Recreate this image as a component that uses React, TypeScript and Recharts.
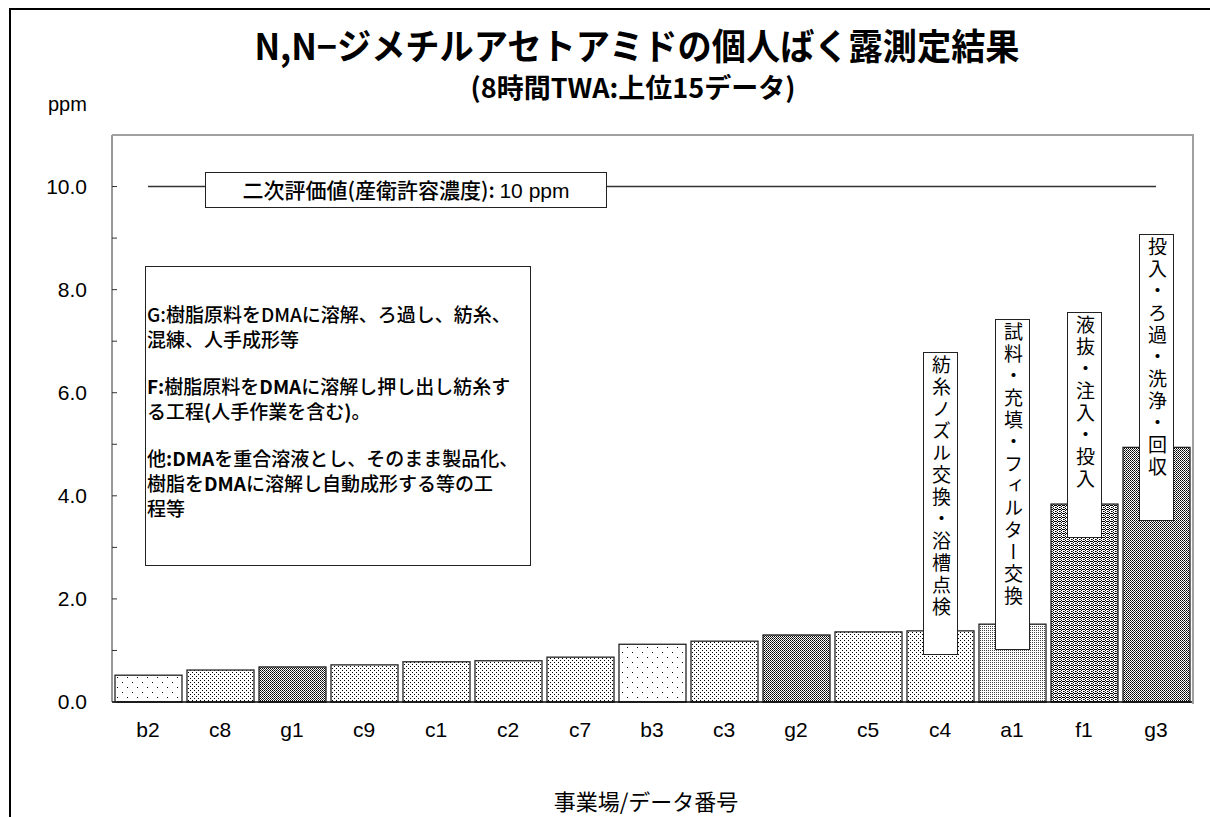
import React from "react";
import { ComposedChart, Bar, Line, XAxis, YAxis, Cell } from "recharts";

const categories = ["b2", "c8", "g1", "c9", "c1", "c2", "c7", "b3", "c3", "g2", "c5", "c4", "a1", "f1", "g3"];
const values = [0.52, 0.62, 0.68, 0.72, 0.78, 0.8, 0.87, 1.12, 1.18, 1.3, 1.36, 1.38, 1.51, 3.84, 4.94];
const yTicks = [0, 1, 2, 3, 4, 5, 6, 7, 8, 9, 10, 11];
const LIMIT = 10;

const noteTexts: Record<string, string> = {
  c4: "紡糸ノズル交換・浴槽点検",
  a1: "試料・充填・フィルター交換",
  f1: "液抜・注入・投入",
  g3: "投入・ろ過・洗浄・回収",
};

// pixel extent of the vertical note boxes (top, bottom)
const noteLayout: Record<string, [number, number]> = {
  c4: [352, 655],
  a1: [319, 650],
  f1: [312, 538],
  g3: [234, 521],
};

const data = categories.map((name, i) => ({ name, value: values[i], limit: LIMIT }));

const JP = '"Noto Sans CJK JP", "Noto Sans", sans-serif';
const LAT = '"Liberation Sans", Arial, sans-serif';

function Patterns() {
  return (
    <svg width={0} height={0} style={{ position: "absolute" }}>
      <defs>
        <pattern id="pat-b" width={10} height={10} patternUnits="userSpaceOnUse">
          <rect width={10} height={10} fill="#fff" />
          <rect x={2} y={2} width={1} height={1} fill="#000" />
          <rect x={7} y={7} width={1} height={1} fill="#000" />
        </pattern>
        <pattern id="pat-c" width={4} height={4} patternUnits="userSpaceOnUse">
          <rect width={4} height={4} fill="#fff" />
          <rect x={0} y={0} width={1} height={1} fill="#000" />
          <rect x={2} y={2} width={1} height={1} fill="#000" />
        </pattern>
        <pattern id="pat-a" width={2} height={2} patternUnits="userSpaceOnUse">
          <rect width={2} height={2} fill="#fff" />
          <rect x={0} y={0} width={1} height={1} fill="#444" />
        </pattern>
        <pattern id="pat-f" width={4} height={4} patternUnits="userSpaceOnUse">
          <rect width={4} height={4} fill="#fff" />
          <rect x={1} y={0} width={1} height={1} fill="#000" />
          <rect x={0} y={1} width={1} height={1} fill="#000" />
          <rect x={2} y={1} width={1} height={1} fill="#000" />
          <rect x={1} y={2} width={1} height={1} fill="#000" />
          <rect x={3} y={3} width={1} height={1} fill="#000" />
          <rect x={3} y={1} width={1} height={1} fill="#000" />
          <rect x={0} y={3} width={1} height={1} fill="#666" />
        </pattern>
        <pattern id="pat-g" width={2} height={2} patternUnits="userSpaceOnUse">
          <rect width={2} height={2} fill="#fff" />
          <rect x={0} y={0} width={1} height={1} fill="#000" />
          <rect x={1} y={1} width={1} height={1} fill="#333" />
        </pattern>
      </defs>
    </svg>
  );
}

function BarWithNote(props: any) {
  const { x, y, width, height, fill, payload } = props;
  const note = noteTexts[payload?.name];
  const box = noteLayout[payload?.name];
  const cx = x + width / 2;
  return (
    <g>
      <rect x={x} y={y} width={width} height={height} fill={fill} stroke="#222" strokeWidth={1.3} />
      {note && box && (
        <foreignObject x={cx - 17.5} y={box[0]} width={35} height={box[1] - box[0]}>
          <div
            style={{
              width: "100%",
              height: "100%",
              boxSizing: "border-box",
              border: "1.5px solid #222",
              background: "#fff",
              writingMode: "vertical-rl",
              fontFamily: JP,
              fontSize: 19,
              letterSpacing: 3,
              lineHeight: "32px",
              paddingTop: 2,
              color: "#000",
            }}
          >
            {note}
          </div>
        </foreignObject>
      )}
    </g>
  );
}

export default function App() {
  return (
    <div
      style={{
        position: "absolute",
        left: 0,
        top: 0,
        width: 1210,
        height: 817,
        overflow: "hidden",
        background: "#fff",
        fontFamily: JP,
      }}
    >
      <Patterns />
      <div
        style={{
          position: "absolute",
          left: 9,
          top: 8,
          width: 1400,
          height: 1000,
          border: "2px solid #000",
        }}
      />
      <div style={{ position: "absolute", left: 0, top: 0 }}>
        <ComposedChart
          width={1210}
          height={817}
          data={data}
          margin={{ top: 135, right: 18, bottom: 65, left: 12 }}
        >
          <XAxis
            dataKey="name"
            tickLine={false}
            tickSize={0}
            tickMargin={20}
            axisLine={{ stroke: "#000", strokeWidth: 1.5 }}
            tick={{ fontSize: 21, fill: "#000", fontFamily: LAT }}
            height={50}
            interval={0}
          />
          <YAxis
            type="number"
            domain={[0, 11]}
            ticks={yTicks}
            interval={0}
            width={100}
            tickSize={-5}
            tickMargin={30}
            tickFormatter={(v: number) => (v % 2 === 0 ? v.toFixed(1) : "")}
            axisLine={{ stroke: "#333", strokeWidth: 1 }}
            tickLine={{ stroke: "#333" }}
            tick={{ fontSize: 21, fill: "#000", fontFamily: LAT }}
          />
          <Line
            dataKey="limit"
            type="linear"
            stroke="#333"
            strokeWidth={1.5}
            dot={false}
            activeDot={false}
            isAnimationActive={false}
          />
          <Bar dataKey="value" barSize={67} shape={BarWithNote} isAnimationActive={false}>
            {categories.map((c) => (
              <Cell key={c} fill={`url(#pat-${c[0]})`} />
            ))}
          </Bar>
        </ComposedChart>
      </div>
      {/* top and right frame of the plot area */}
      <div
        style={{
          position: "absolute",
          left: 112,
          top: 134,
          width: 1080,
          height: 568,
          borderTop: "2px solid #a0a0a0",
          borderRight: "2px solid #a0a0a0",
          pointerEvents: "none",
        }}
      />
      <div
        style={{
          position: "absolute",
          left: 637,
          top: 25,
          transform: "translateX(-50%) scaleX(0.95)",
          whiteSpace: "nowrap",
          fontSize: 36,
          fontWeight: 700,
          lineHeight: "38px",
        }}
      >
        N,N−ジメチルアセトアミドの個人ばく露測定結果
      </div>
      <div
        style={{
          position: "absolute",
          left: 633,
          top: 72,
          transform: "translateX(-50%)",
          whiteSpace: "nowrap",
          fontSize: 27,
          fontWeight: 700,
          lineHeight: "29px",
        }}
      >
        (8時間TWA:上位15データ)
      </div>
      <div style={{ position: "absolute", left: 48, top: 93, fontSize: 20, fontFamily: LAT }}>ppm</div>
      <div
        style={{
          position: "absolute",
          left: 205,
          top: 172,
          width: 402,
          height: 36,
          boxSizing: "border-box",
          border: "1.5px solid #222",
          background: "#fff",
          fontSize: 21,
          lineHeight: "33px",
          textAlign: "center",
          whiteSpace: "nowrap",
          fontWeight: 500,
        }}
      >
        二次評価値(産衛許容濃度): <span style={{ fontFamily: LAT }}>10 ppm</span>
      </div>
      <div
        style={{
          position: "absolute",
          left: 145,
          top: 266,
          width: 386,
          height: 300,
          boxSizing: "border-box",
          border: "1.5px solid #222",
          background: "#fff",
          fontSize: 19,
          lineHeight: "25px",
          padding: "34px 0 0 1px",
          whiteSpace: "nowrap",
          fontWeight: 500,
        }}
      >
        <div>
          G:樹脂原料をDMAに溶解、ろ過し、紡糸、
          <br />
          混練、人手成形等
        </div>
        <div style={{ marginTop: 22 }}>
          <b>F:</b>樹脂原料を<b>DMA</b>に溶解し押し出し紡糸す
          <br />
          る工程<b>(</b>人手作業を含む<b>)</b>。
        </div>
        <div style={{ marginTop: 22 }}>
          他<b>:DMA</b>を重合溶液とし、そのまま製品化、
          <br />
          樹脂を<b>DMA</b>に溶解し自動成形する等の工
          <br />
          程等
        </div>
      </div>
      <div
        style={{
          position: "absolute",
          left: 646,
          top: 786,
          transform: "translateX(-50%)",
          whiteSpace: "nowrap",
          fontSize: 22,
          lineHeight: "28px",
        }}
      >
        事業場/データ番号
      </div>
    </div>
  );
}
